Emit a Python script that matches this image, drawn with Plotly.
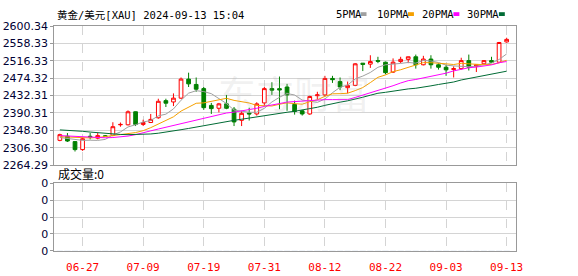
import plotly.graph_objects as go

W, H = 578, 276

dates = ["06-24","06-25","06-26","06-27","06-28",
         "07-01","07-02","07-03","07-04","07-05",
         "07-08","07-09","07-10","07-11","07-12",
         "07-15","07-16","07-17","07-18","07-19",
         "07-22","07-23","07-24","07-25","07-26",
         "07-29","07-30","07-31","08-01","08-02",
         "08-05","08-06","08-07","08-08","08-09",
         "08-12","08-13","08-14","08-15","08-16",
         "08-19","08-20","08-21","08-22","08-23",
         "08-26","08-27","08-28","08-29","08-30",
         "09-02","09-03","09-04","09-05","09-06",
         "09-09","09-10","09-11","09-12","09-13"]

open_ = [2324.1,2334.0,2321.1,2301.8,2334.0,2329.4,2335.0,2336.3,2361.7,2361.7,
         2393.2,2362.6,2367.2,2378.7,2420.1,2416.9,2426.1,2472.1,2459.2,2449.1,
         2408.6,2401.7,2412.3,2399.4,2372.5,2390.0,2387.9,2414.6,2449.1,2449.0,
         2453.0,2410.9,2395.5,2387.9,2432.0,2433.9,2473.7,2466.2,2451.4,2456.9,
         2510.6,2508.3,2517.0,2512.9,2489.0,2514.5,2519.8,2526.0,2506.7,2520.5,
         2506.7,2500.7,2495.1,2497.4,2516.8,2503.0,2509.0,2516.8,2512.9,2561.9]
high = [2340.2,2341.8,2322.5,2330.3,2341.8,2341.8,2337.0,2367.9,2367.2,2396.6,
        2393.9,2374.0,2387.9,2424.7,2424.7,2437.6,2476.0,2487.6,2476.0,2453.0,
        2414.6,2414.6,2433.9,2404.7,2395.5,2403.0,2416.2,2453.0,2464.5,2478.3,
        2460.6,2420.1,2397.8,2432.0,2441.5,2480.0,2480.0,2476.0,2466.2,2510.6,
        2511.0,2529.7,2526.0,2514.5,2522.1,2526.0,2526.5,2531.3,2528.3,2529.7,
        2510.6,2506.7,2503.0,2523.7,2531.3,2506.7,2517.5,2526.0,2561.9,2572.0]
low = [2322.0,2320.2,2297.2,2298.8,2326.4,2326.4,2332.0,2334.0,2357.1,2360.3,
       2358.7,2358.7,2366.0,2376.4,2404.7,2407.0,2424.0,2453.0,2441.5,2397.8,
       2387.9,2391.6,2399.4,2358.7,2358.7,2372.0,2384.0,2407.0,2433.9,2399.4,
       2395.5,2386.3,2384.0,2386.0,2422.4,2430.0,2462.9,2445.4,2437.6,2455.0,
       2491.5,2499.1,2510.6,2483.6,2487.0,2510.6,2510.6,2497.4,2505.3,2497.4,
       2495.1,2480.0,2476.0,2495.1,2492.8,2489.2,2508.5,2510.6,2512.0,2560.0]
close = [2337.9,2322.5,2301.8,2328.0,2332.5,2335.6,2334.0,2357.1,2362.6,2393.2,
         2362.6,2367.2,2374.8,2418.5,2413.9,2426.1,2472.1,2460.6,2447.7,2403.1,
         2400.8,2412.3,2401.7,2368.6,2389.4,2388.0,2412.3,2449.1,2445.4,2446.0,
         2433.9,2393.9,2387.9,2430.0,2434.0,2473.7,2470.7,2453.0,2456.9,2509.0,
         2507.6,2514.5,2515.0,2487.6,2512.9,2519.8,2526.0,2506.7,2520.5,2506.7,
         2500.7,2494.5,2497.4,2516.8,2500.7,2506.7,2516.8,2512.9,2560.5,2568.1]

ma5 = [2331.0,2328.7,2326.4,2324.1,2324.5,2324.1,2326.4,2337.4,2344.4,2356.5,
       2361.9,2368.5,2372.1,2383.3,2387.4,2400.1,2421.1,2438.2,2444.1,2441.9,
       2436.9,2424.9,2413.1,2397.3,2394.6,2392.0,2392.0,2401.5,2416.8,2428.2,
       2437.3,2433.7,2421.4,2418.3,2415.9,2423.9,2439.3,2452.3,2457.7,2472.7,
       2479.4,2488.2,2500.6,2506.7,2507.5,2510.0,2512.3,2510.6,2517.2,2515.9,
       2512.1,2505.8,2504.0,2503.2,2502.0,2503.2,2507.7,2510.8,2519.5,2533.0]
ma10 = [2333.0,2332.0,2331.0,2330.0,2330.0,2331.0,2333.0,2335.5,2338.0,2340.5,
        2343.0,2347.5,2354.8,2363.8,2372.0,2381.0,2394.8,2405.2,2413.7,2414.7,
        2418.5,2423.0,2425.7,2420.7,2418.2,2414.4,2408.5,2407.3,2407.1,2411.4,
        2414.7,2412.8,2411.5,2417.6,2422.1,2430.6,2436.5,2436.9,2438.0,2444.3,
        2451.7,2463.7,2476.4,2482.2,2490.1,2494.7,2500.2,2505.6,2512.0,2511.7,
        2511.0,2509.0,2507.3,2510.2,2509.0,2507.7,2506.8,2507.4,2511.4,2517.5]
ma20 = [2335.6,2334.5,2333.3,2332.2,2331.0,2330.3,2330.3,2331.0,2332.2,2334.5,
        2337.9,2341.8,2347.1,2351.5,2355.6,2359.8,2364.0,2369.0,2373.6,2377.6,
        2380.7,2385.2,2390.2,2392.3,2395.1,2397.7,2401.6,2406.2,2410.4,2413.0,
        2416.6,2417.9,2418.6,2419.1,2420.1,2422.5,2422.5,2422.1,2422.5,2427.8,
        2433.2,2438.3,2443.9,2449.9,2456.1,2462.7,2468.3,2471.2,2475.0,2478.0,
        2481.4,2486.4,2491.9,2496.2,2499.5,2501.2,2503.5,2506.5,2511.7,2514.6]
ma30 = [2349.4,2348.7,2347.6,2346.0,2344.2,2342.5,2340.9,2339.6,2338.4,2337.9,
        2337.9,2338.4,2339.6,2341.4,2343.7,2346.7,2349.9,2352.9,2356.4,2359.8,
        2363.3,2366.3,2369.5,2372.5,2375.2,2378.2,2381.0,2384.0,2386.3,2388.8,
        2392.0,2394.4,2397.3,2400.7,2404.1,2408.7,2413.2,2416.4,2419.6,2423.4,
        2428.3,2433.2,2437.9,2440.2,2443.5,2446.6,2448.4,2450.0,2452.3,2455.8,
        2459.1,2461.9,2465.1,2470.0,2473.7,2477.7,2481.1,2483.3,2487.1,2491.2]
volume = [0] * 60

y_ticks = [2264.29, 2306.30, 2348.30, 2390.31, 2432.31, 2474.32, 2516.33, 2558.33, 2600.34]
y_tick_text = ["2264.29", "2306.30", "2348.30", "2390.31", "2432.31", "2474.32", "2516.33", "2558.33", "2600.34"]
x_tick_dates = ["06-27", "07-09", "07-19", "07-31", "08-12", "08-22", "09-03", "09-13"]
vol_ticks = [0, 1, 2, 3, 4]
vol_tick_text = ["0", "0", "0", "0", "0"]

ma_names = ["5PMA", "10PMA", "20PMA", "30PMA"]
ma_colors = ["#a0a0a0", "#f5a000", "#ff00ff", "#006b35"]

idx = list(range(len(dates)))
x_tick_idx = [dates.index(d) for d in x_tick_dates]

RED = "#ff0000"
GREEN = "#008000"

fig = go.Figure()
fig.add_trace(go.Candlestick(
    x=idx, open=open_, high=high, low=low, close=close,
    increasing=dict(line=dict(color=RED, width=1), fillcolor="#ffffff"),
    decreasing=dict(line=dict(color=GREEN, width=1), fillcolor=GREEN),
    whiskerwidth=0, showlegend=False, hoverinfo="skip",
    xaxis="x", yaxis="y"))
for name, vals, col in zip(ma_names, [ma5, ma10, ma20, ma30], ma_colors):
    fig.add_trace(go.Scatter(x=idx, y=vals, mode="lines", name=name,
                             line=dict(color=col, width=1), showlegend=False,
                             hoverinfo="skip", xaxis="x", yaxis="y"))
fig.add_trace(go.Bar(x=idx, y=volume, marker_color=RED, showlegend=False,
                     hoverinfo="skip", xaxis="x2", yaxis="y2"))

def px_x(p):
    return p / W

def px_y(p):
    return 1 - p / H

L, R = 55, 522
T1, B1 = 21, 167
T2, B2 = 186, 257
xr = [-0.73, 60.19]

frame = "#999999"
grid = "#d4d4d4"
lab_font = dict(family="DejaVu Sans, Liberation Sans, sans-serif", size=11, color="#000033")

fig.update_layout(
    width=W, height=H, margin=dict(l=0, r=0, t=0, b=0),
    paper_bgcolor="white", plot_bgcolor="white",
    showlegend=False, hovermode=False,
    xaxis=dict(domain=[px_x(L), px_x(R)], range=xr, anchor="y",
               tickvals=x_tick_idx, showticklabels=False, ticks="",
               showgrid=True, gridcolor=grid, griddash="dash", gridwidth=1,
               showline=True, mirror=True, linecolor=frame, linewidth=1,
               zeroline=False, rangeslider=dict(visible=False), fixedrange=True),
    yaxis=dict(domain=[px_y(B1), px_y(T1)], range=[y_ticks[0], y_ticks[-1]], anchor="x",
               tickvals=y_ticks, ticktext=y_tick_text, tickfont=lab_font,
               ticks="outside", ticklen=3, tickcolor=frame,
               showgrid=True, gridcolor=grid, gridwidth=1,
               showline=True, mirror=True, linecolor=frame, linewidth=1,
               zeroline=False, fixedrange=True),
    xaxis2=dict(domain=[px_x(L), px_x(R)], range=xr, anchor="y2",
                tickvals=x_tick_idx, ticktext=x_tick_dates,
                tickfont=dict(family="DejaVu Sans Mono, monospace", size=11, color=RED),
                ticks="", ticklabelstandoff=6,
                showgrid=True, gridcolor=grid, griddash="dash", gridwidth=1,
                showline=True, mirror=True, linecolor=frame, linewidth=1,
                zeroline=False, fixedrange=True),
    yaxis2=dict(domain=[px_y(B2), px_y(T2)], range=[0, 4], anchor="x2",
                tickvals=vol_ticks, ticktext=vol_tick_text, tickfont=lab_font,
                ticks="outside", ticklen=3, tickcolor=frame,
                showgrid=True, gridcolor=grid, gridwidth=1,
                showline=True, mirror=True, linecolor=frame, linewidth=1,
                zeroline=False, fixedrange=True),
)

title_font = dict(family="DejaVu Sans Mono, Noto Sans CJK SC, monospace", size=10.5, color="#000000")
annotations = [
    dict(text="东方财富", x=px_x(298), y=px_y(90), xref="paper", yref="paper",
         xanchor="center", yanchor="middle", showarrow=False,
         font=dict(family="Noto Sans CJK SC, sans-serif", size=38, color="rgba(170,170,170,0.18)")),
    dict(text="黄金/美元[XAU] 2024-09-13 15:04", x=px_x(56), y=px_y(9.5), xref="paper", yref="paper",
         xanchor="left", yanchor="middle", showarrow=False, font=title_font),
    dict(text="成交量:0", x=px_x(57), y=px_y(176), xref="paper", yref="paper",
         xanchor="left", yanchor="middle", showarrow=False,
         font=dict(family="Noto Sans CJK SC, sans-serif", size=12, color="#000000")),
]
legend_text_x = [338, 380, 425, 471]
legend_sw_x = [365, 413, 459, 505]
shapes = []
for name, col, tx, sx in zip(ma_names, ma_colors, legend_text_x, legend_sw_x):
    annotations.append(dict(text=name, x=px_x(tx), y=px_y(8.5), xref="paper", yref="paper",
                            xanchor="left", yanchor="middle", showarrow=False,
                            font=dict(family="DejaVu Sans Mono, monospace", size=10.5, color="#000000")))
    shapes.append(dict(type="rect", xref="paper", yref="paper",
                       x0=px_x(sx), x1=px_x(sx + 6), y0=px_y(10.5), y1=px_y(6.5),
                       fillcolor=col, line=dict(width=0)))
fig.update_layout(annotations=annotations, shapes=shapes)

fig.write_html("out.html")
